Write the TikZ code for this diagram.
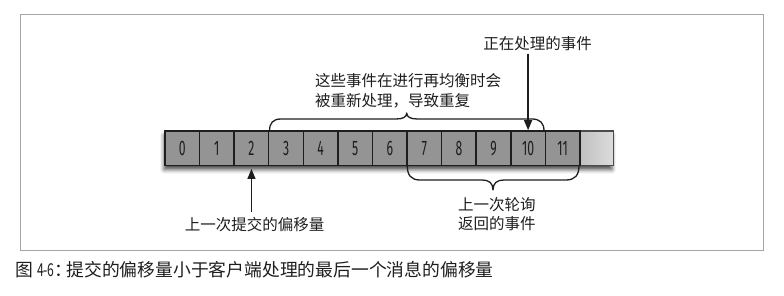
\documentclass[tikz,border=0pt]{standalone}
\usepackage{graphicx}
\usepackage{fontspec}
\setmainfont{Liberation Serif}
\newfontfamily\cjk{Noto Sans CJK SC}
\newfontfamily\digitfont[FakeStretch=0.58]{Fira Sans}
\usetikzlibrary{arrows.meta,shadows.blur}

\definecolor{cellgray}{RGB}{148,148,148}
\definecolor{tailgray}{RGB}{192,192,192}
\definecolor{framegray}{RGB}{165,165,165}
\definecolor{ink}{RGB}{30,30,30}

\begin{document}
\begin{tikzpicture}[x=1pt,y=-1pt,
  cell/.style={draw=ink, line width=1.5pt, fill=cellgray,
    minimum width=34.6pt, minimum height=34.7pt, inner sep=0pt,
    font=\digitfont\fontsize{21}{21}\selectfont, text=ink},
  label/.style={font=\cjk\fontsize{15.5}{19}\selectfont, text=ink, inner sep=0pt},
  pointer/.style={draw=ink, line width=1.3pt, -{Triangle[length=10pt,width=8pt]}},
  bracket/.style={draw=ink, line width=1.3pt, line join=round, line cap=round},
]
\useasboundingbox (0,0) rectangle (784,296);

% figure frame
\draw[framegray, line width=1pt] (20,15) rectangle (763,251);

% soft shadow under the log
\path[fill=white, blur shadow={shadow xshift=-1pt, shadow yshift=-4pt,
  shadow blur radius=4pt, shadow opacity=70}] (165,131) rectangle (613,165.7);

% empty tail of the log
\node[draw=ink!80, line width=1.5pt, left color=tailgray, right color=tailgray!55,
  minimum width=33.8pt, minimum height=34.7pt, inner sep=0pt] (tail) at (596.4,148.3) {};

% offsets 0..11
\foreach \i in {0,...,11}
  \node[cell] (c\i) at (182.3+34.58*\i,148.3) {\i};

% labels
\node[label] (proc) at (537.5,43.3) {正在处理的事件};
\node[label, anchor=west, align=left, font=\cjk\fontsize{15.5}{20}\selectfont]
  (rebal) at (315,91) {这些事件在进行再均衡时会\\被重新处理，导致重复};
\node[label, anchor=west, align=left, font=\cjk\fontsize{15.5}{18.5}\selectfont]
  (poll) at (458,214) {上一次轮询\\返回的事件};
\node[label] (commit) at (254.5,224.5) {上一次提交的偏移量};

% pointers
\draw[pointer, shorten <=3pt] (c10.north |- proc.south) -- (c10.north);
\draw[pointer, shorten <=5pt, shorten >=2.5pt] (c2.south |- commit.north) -- (c2.south);

% brace over offsets 3..10
\draw[bracket] (269.5,131) .. controls (269.5,123) and (273,119) .. (281,119)
  -- (396,119) .. controls (403,119) and (406.7,117) .. (406.7,113)
  .. controls (406.7,117) and (410.5,119) .. (417.5,119)
  -- (532,119) .. controls (540,119) and (544,123) .. (544,131);

% brace under offsets 7..11
\draw[bracket] (407.3,166) .. controls (407.3,175) and (411,180) .. (420,180)
  -- (482,180) .. controls (489,180) and (493,183) .. (493,190)
  .. controls (493,183) and (497,180) .. (504,180)
  -- (566,180) .. controls (575,180) and (579,175) .. (579,166);

% caption
\node[anchor=west, inner sep=0pt, text=ink, font=\cjk\fontsize{17.8}{18}\selectfont]
  (caption) at (15,270)
  {图\hspace{4pt}\scalebox{0.68}[1]{4-6}：\hspace{-6pt}提交的偏移量小于客户端处理的最后一个消息的偏移量};
\end{tikzpicture}
\end{document}
